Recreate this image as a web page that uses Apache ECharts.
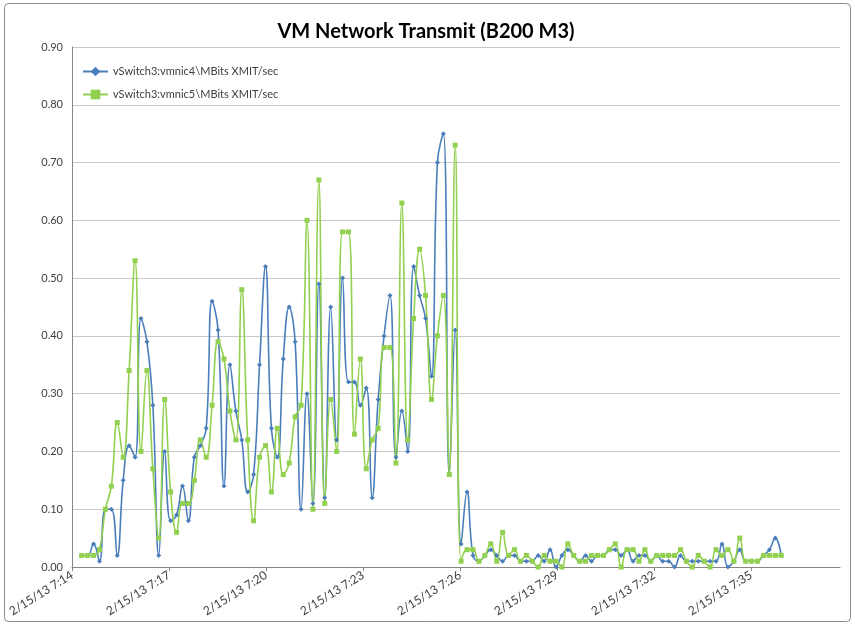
<!DOCTYPE html>
<html>
<head>
<meta charset="utf-8">
<title>VM Network Transmit (B200 M3)</title>
<script src="https://cdn.jsdelivr.net/npm/echarts@6/dist/echarts.min.js"></script>
<style>
  html, body { margin: 0; padding: 0; background: #fff; }
  #chart { width: 855px; height: 624px; }
</style>
</head>
<body>
<div id="chart"></div>
<script>
// perfmon samples, seconds after 7:14:00
const firstSampleSec = 18;
const sampleStepSec = 11;

const seriesNames = ["vSwitch3:vmnic4\\MBits XMIT/sec", "vSwitch3:vmnic5\\MBits XMIT/sec"];

const vmnic4 = [
  0.02, 0.02, 0.04, 0.01, 0.10, 0.10, 0.02, 0.15, 0.21, 0.19,
  0.43, 0.39, 0.28, 0.02, 0.20, 0.08, 0.09, 0.14, 0.08, 0.19,
  0.21, 0.24, 0.46, 0.41, 0.14, 0.35, 0.27, 0.22, 0.13, 0.16,
  0.35, 0.52, 0.24, 0.19, 0.36, 0.45, 0.39, 0.10, 0.30, 0.11,
  0.49, 0.12, 0.45, 0.22, 0.50, 0.32, 0.32, 0.28, 0.31, 0.12,
  0.29, 0.40, 0.47, 0.19, 0.27, 0.20, 0.52, 0.47, 0.43, 0.33,
  0.70, 0.75, 0.16, 0.41, 0.04, 0.13, 0.02, 0.01, 0.02, 0.03,
  0.02, 0.01, 0.02, 0.02, 0.01, 0.01, 0.01, 0.02, 0.01, 0.03,
  0.00, 0.02, 0.03, 0.02, 0.01, 0.02, 0.01, 0.02, 0.02, 0.03,
  0.03, 0.02, 0.03, 0.01, 0.02, 0.02, 0.01, 0.02, 0.01, 0.01,
  0.00, 0.02, 0.01, 0.01, 0.01, 0.01, 0.01, 0.01, 0.04, 0.00,
  0.01, 0.03, 0.01, 0.01, 0.01, 0.02, 0.03, 0.05, 0.02
];

const vmnic5 = [
  0.02, 0.02, 0.02, 0.03, 0.10, 0.14, 0.25, 0.19, 0.34, 0.53,
  0.20, 0.34, 0.17, 0.05, 0.29, 0.13, 0.06, 0.11, 0.11, 0.15,
  0.22, 0.19, 0.28, 0.39, 0.36, 0.27, 0.22, 0.48, 0.22, 0.08,
  0.19, 0.21, 0.13, 0.24, 0.16, 0.18, 0.26, 0.28, 0.60, 0.10,
  0.67, 0.11, 0.29, 0.20, 0.58, 0.58, 0.23, 0.36, 0.17, 0.22,
  0.24, 0.38, 0.38, 0.18, 0.63, 0.22, 0.43, 0.55, 0.47, 0.29,
  0.40, 0.47, 0.16, 0.73, 0.01, 0.03, 0.03, 0.01, 0.02, 0.04,
  0.01, 0.06, 0.02, 0.03, 0.01, 0.02, 0.01, 0.00, 0.02, 0.01,
  0.01, 0.00, 0.04, 0.02, 0.01, 0.01, 0.02, 0.02, 0.02, 0.03,
  0.04, 0.00, 0.03, 0.03, 0.01, 0.03, 0.01, 0.02, 0.02, 0.02,
  0.02, 0.03, 0.01, 0.00, 0.02, 0.01, 0.00, 0.03, 0.02, 0.03,
  0.01, 0.05, 0.01, 0.01, 0.01, 0.02, 0.02, 0.02, 0.02
];

function withTimes(values) {
    return values.map((v, i) => [firstSampleSec + i * sampleStepSec, v]);
}

function timeLabel(sec) {
    const total = 14 + Math.round(sec / 60);
    const mm = total < 10 ? "0" + total : "" + total;
    return "2/15/13 7:" + mm;
}

const chart = echarts.init(document.getElementById("chart"));
const font = "Lato, 'Open Sans', sans-serif";

chart.setOption({
    animation: false,
    backgroundColor: "#fff",
    title: {
        text: "VM Network Transmit (B200 M3)",
        left: 421,
        textAlign: "center",
        top: 17,
        textStyle: {fontFamily: font, fontSize: 20, fontWeight: "bold", color: "#000"}
    },
    graphic: [{
        type: "rect",
        shape: {x: 4.5, y: 3.5, width: 846, height: 618, r: 4},
        style: {fill: "none", stroke: "#8c8c8c", lineWidth: 1},
        silent: true
    }],
    legend: {
        orient: "vertical",
        left: 77,
        top: 61,
        itemWidth: 25,
        itemHeight: 12,
        itemGap: 12,
        textStyle: {fontFamily: font, fontSize: 11, color: "#404040"},
        data: seriesNames
    },
    grid: {left: 72, right: 15, top: 47, bottom: 57},
    xAxis: {
        type: "value",
        min: 0,
        max: 1425,
        interval: 180,
        axisLine: {lineStyle: {color: "#868686"}},
        axisTick: {show: true, length: 4, lineStyle: {color: "#868686"}},
        splitLine: {show: false},
        axisLabel: {
            rotate: 32,
            margin: 7,
            showMaxLabel: false,
            fontFamily: font,
            fontSize: 12,
            color: "#404040",
            formatter: timeLabel
        }
    },
    yAxis: {
        type: "value",
        min: 0,
        max: 0.9,
        interval: 0.1,
        axisLine: {show: true, lineStyle: {color: "#868686"}},
        axisTick: {show: false},
        splitLine: {lineStyle: {color: "#c8c8c8", width: 1}},
        axisLabel: {
            margin: 9,
            fontFamily: font,
            fontSize: 11,
            color: "#404040",
            formatter: v => v.toFixed(2)
        }
    },
    series: [
        {
            name: seriesNames[0],
            type: "line",
            smooth: 0.45,
            data: withTimes(vmnic4),
            symbol: "diamond",
            symbolSize: 5,
            lineStyle: {color: "#4a7ebb", width: 1.6},
            itemStyle: {color: "#4a7ebb"}
        },
        {
            name: seriesNames[1],
            type: "line",
            smooth: 0.45,
            data: withTimes(vmnic5),
            symbol: "rect",
            symbolSize: 5,
            lineStyle: {color: "#92d050", width: 1.6},
            itemStyle: {color: "#92d050"}
        }
    ]
});
</script>
</body>
</html>
